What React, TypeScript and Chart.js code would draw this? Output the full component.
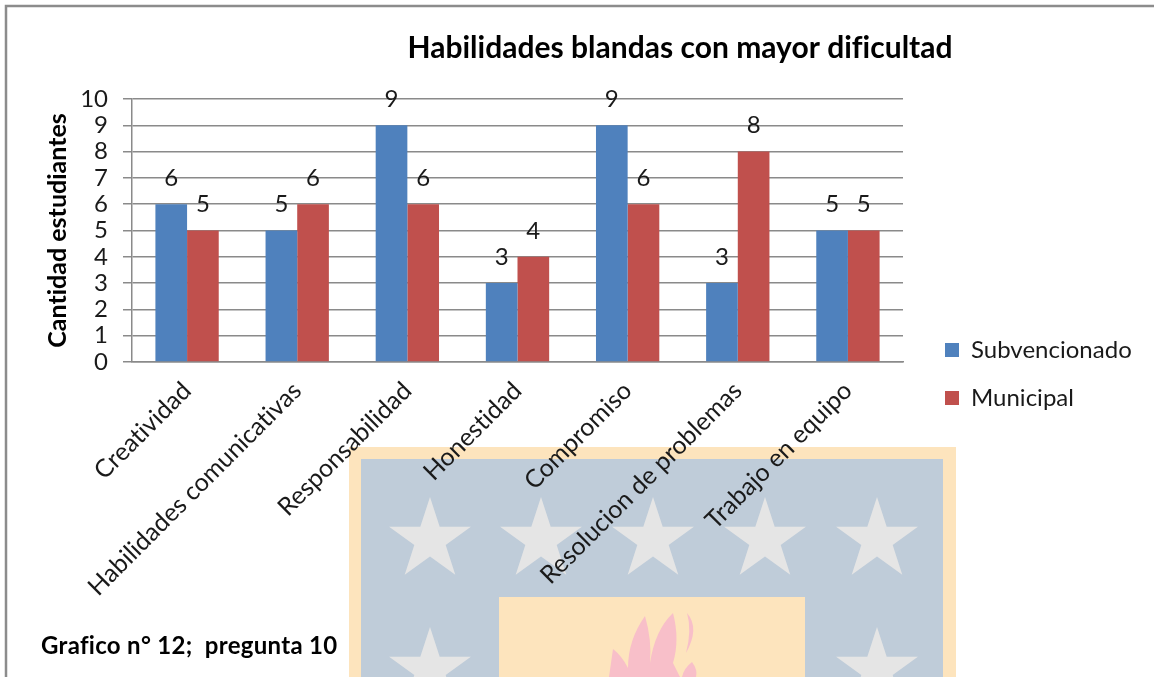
import React, { useEffect, useRef } from "react";
import { Chart, registerables } from "chart.js";

Chart.register(...registerables);

const categories = [
  "Creatividad",
  "Habilidades comunicativas",
  "Responsabilidad",
  "Honestidad",
  "Compromiso",
  "Resolucion de problemas",
  "Trabajo en equipo",
];
const subvencionado = [6, 5, 9, 3, 9, 3, 5];
const municipal = [5, 6, 6, 4, 6, 8, 5];
const chartTitle = "Habilidades blandas con mayor dificultad";
const yAxisTitle = "Cantidad estudiantes";
const caption = "Grafico n° 12;  pregunta 10";

const FONT = "Lato, 'Noto Sans', sans-serif";
const GRID = "#8a8a8a";
const TEXT = "#1a1a1a";

function star(ctx: CanvasRenderingContext2D, cx: number, top: number) {
  const R = 43;
  const r = 16.5;
  const cy = top + R;
  ctx.beginPath();
  for (let i = 0; i < 10; i++) {
    const a = -Math.PI / 2 + (i * Math.PI) / 5;
    const rad = i % 2 === 0 ? R : r;
    const x = cx + rad * Math.cos(a);
    const y = cy + rad * Math.sin(a);
    if (i === 0) ctx.moveTo(x, y);
    else ctx.lineTo(x, y);
  }
  ctx.closePath();
  ctx.fill();
}

const backdrop = {
  id: "backdrop",
  beforeDraw(chart: any) {
    const ctx: any = chart.ctx;
    ctx.save();
    ctx.fillStyle = "#ffffff";
    ctx.fillRect(0, 0, 1154, 677);
    ctx.fillStyle = "#fde4bd";
    ctx.fillRect(349, 447, 607, 230);
    ctx.fillStyle = "#bfccd9";
    ctx.fillRect(361, 459, 582, 218);
    ctx.fillStyle = "#e5e5e5";
    [430, 541, 653, 765, 877].forEach((x) => star(ctx, x, 497));
    [430, 877].forEach((x) => star(ctx, x, 627));
    ctx.fillStyle = "#fde4bd";
    ctx.fillRect(499, 597, 306, 80);
    ctx.fillStyle = "#f8bfc9";
    ctx.beginPath();
    ctx.moveTo(609, 677);
    ctx.lineTo(613, 649);
    ctx.quadraticCurveTo(622, 656, 628, 668);
    ctx.quadraticCurveTo(628, 640, 645, 616);
    ctx.quadraticCurveTo(652, 640, 650, 663);
    ctx.quadraticCurveTo(655, 630, 673, 613);
    ctx.quadraticCurveTo(680, 640, 673, 663);
    ctx.lineTo(680, 677);
    ctx.closePath();
    ctx.fill();
    ctx.beginPath();
    ctx.moveTo(687, 613);
    ctx.quadraticCurveTo(700, 628, 686, 653);
    ctx.quadraticCurveTo(692, 630, 687, 613);
    ctx.closePath();
    ctx.fill();
    ctx.beginPath();
    ctx.moveTo(682, 677);
    ctx.quadraticCurveTo(684, 668, 692, 662);
    ctx.quadraticCurveTo(698, 670, 696, 677);
    ctx.closePath();
    ctx.fill();
    ctx.strokeStyle = "#8c8c8c";
    ctx.lineWidth = 2.5;
    ctx.beginPath();
    ctx.moveTo(6, 677);
    ctx.lineTo(6, 6);
    ctx.lineTo(1154, 6);
    ctx.stroke();
    ctx.restore();
    // a tiny tracking switches the "fi" ligature off, as in the reference
    ctx.letterSpacing = "0.01px";
  },
};

const placement = {
  id: "placement",
  beforeLayout(chart: any) {
    const legend = chart.legend;
    if (legend && !legend.__fitWrapped) {
      const fit = legend.fit;
      legend.fit = function () {
        fit.call(this);
        this.width = 251;
      };
      legend.__fitWrapped = true;
    }
  },
  afterLayout(chart: any) {
    if (chart.titleBlock) {
      chart.titleBlock.left = 280;
      chart.titleBlock.right = 1080;
    }
    if (chart.legend) {
      chart.legend.left = 921;
      chart.legend.top = 314;
    }
  },
};

const valueLabels = {
  id: "valueLabels",
  afterDatasetsDraw(chart: any) {
    const ctx: CanvasRenderingContext2D = chart.ctx;
    ctx.save();
    ctx.font = `24px ${FONT}`;
    ctx.fillStyle = TEXT;
    ctx.textAlign = "center";
    ctx.textBaseline = "middle";
    chart.data.datasets.forEach((ds: any, i: number) => {
      chart.getDatasetMeta(i).data.forEach((bar: any, j: number) => {
        ctx.fillText(String(ds.data[j]), bar.x, bar.y - 26);
      });
    });
    ctx.restore();
  },
};

export default function App() {
  const ref = useRef<HTMLCanvasElement>(null);
  useEffect(() => {
    const chart = new Chart(ref.current as HTMLCanvasElement, {
      type: "bar",
      data: {
        labels: categories,
        datasets: [
          { label: "Subvencionado", data: subvencionado, backgroundColor: "#4f81bd" },
          { label: "Municipal", data: municipal, backgroundColor: "#c0504d" },
        ],
      },
      plugins: [backdrop, placement, valueLabels],
      options: {
        animation: false,
        responsive: false,
        layout: { padding: 0 },
        datasets: { bar: { categoryPercentage: 0.575, barPercentage: 1 } },
        plugins: {
          tooltip: { enabled: false },
          title: {
            display: true,
            text: chartTitle,
            color: "#000000",
            font: { family: FONT, size: 30, weight: "bold", lineHeight: 1.2 },
            padding: { top: 30, bottom: 33 },
          },
          legend: {
            position: "right",
            align: "start",
            labels: {
              color: TEXT,
              font: { family: FONT, size: 24 },
              boxWidth: 14,
              boxHeight: 14,
              padding: 24,
            },
          },
        },
        scales: {
          x: {
            afterFit(scale: any) {
              scale.height = 315;
            },
            border: { color: GRID, width: 1.5 },
            grid: { drawOnChartArea: false, drawTicks: false },
            ticks: {
              minRotation: 45,
              maxRotation: 45,
              autoSkip: false,
              color: TEXT,
              padding: 14,
              font: { family: FONT, size: 25 },
            },
          },
          y: {
            min: 0,
            max: 10,
            afterFit(scale: any) {
              scale.width = 132;
            },
            border: { color: GRID, width: 1.5 },
            grid: { color: GRID, lineWidth: 1.5, tickLength: 9 },
            ticks: {
              stepSize: 1,
              autoSkip: false,
              color: TEXT,
              padding: 15,
              font: { family: FONT, size: 24 },
            },
            title: {
              display: true,
              text: yAxisTitle,
              color: "#000000",
              font: { family: FONT, size: 25, weight: "bold", lineHeight: 1.2 },
              padding: { top: 43, bottom: 0 },
            },
          },
        },
      },
    } as any);
    return () => chart.destroy();
  }, []);
  return (
    <div style={{ position: "absolute", left: 0, top: 0, width: 1154, height: 677, overflow: "hidden" }}>
      <canvas ref={ref} width={1154} height={677} style={{ display: "block" }} />
      <div
        style={{
          position: "absolute",
          left: 41,
          top: 630,
          font: `bold 24px ${FONT}`,
          letterSpacing: "0.3px",
          fontVariantLigatures: "none",
          color: "#000000",
          whiteSpace: "pre",
        }}
      >
        {caption}
      </div>
    </div>
  );
}
